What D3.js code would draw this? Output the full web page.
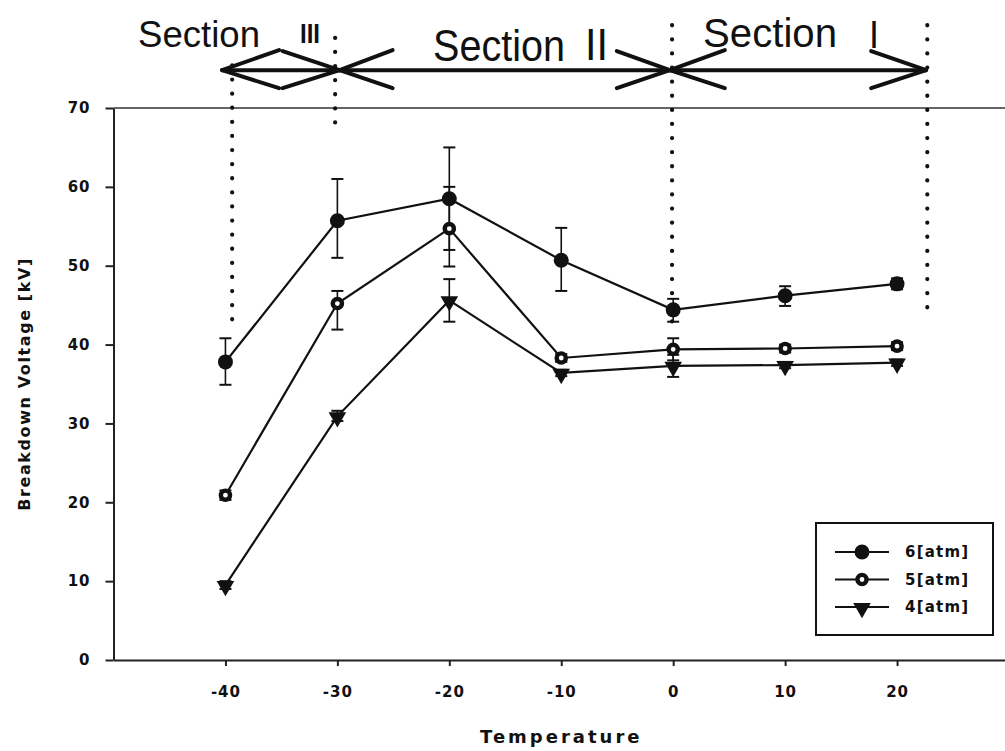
<!DOCTYPE html>
<html>
<head>
<meta charset="utf-8">
<script src="https://d3js.org/d3.v7.min.js"></script>
<style>
  body { margin: 0; background: #fff; }
  .tick text { font-family: "DejaVu Sans", sans-serif; font-weight: bold; font-size: 15px; letter-spacing: 1px; fill: #111; }
  .axis path, .axis line { stroke: #222; stroke-width: 2; }
  .title { font-family: "DejaVu Sans", sans-serif; font-weight: bold; fill: #111; }
  .section { font-family: "Liberation Sans", Arial, sans-serif; fill: #111; }
  .legend text { font-family: "DejaVu Sans", sans-serif; font-weight: bold; font-size: 15px; letter-spacing: 1.2px; fill: #111; }
</style>
</head>
<body>
<script>
// temperatures on the x axis
var temps = [-40, -30, -20, -10, 0, 10, 20];

// breakdown voltage per pressure, with error bar ends
var v6   = [37.8, 55.7, 58.5, 50.7, 44.4, 46.2, 47.7];
var v6lo = [34.9, 51.0, 52.0, 46.8, 42.9, 44.9, 47.0];
var v6hi = [40.8, 61.0, 65.0, 54.8, 45.8, 47.4, 48.4];

var v5   = [20.9, 45.2, 54.7, 38.3, 39.4, 39.5, 39.8];
var v5lo = [20.3, 41.9, 49.9, 37.8, 38.0, 39.0, 39.3];
var v5hi = [21.5, 46.8, 60.0, 38.8, 40.8, 40.0, 40.3];

var v4   = [9.5, 30.9, 45.6, 36.4, 37.3, 37.4, 37.7];
var v4lo = [9.0, 30.3, 42.9, 36.0, 35.9, 37.0, 37.3];
var v4hi = [10.0, 31.6, 48.3, 36.8, 38.7, 37.8, 38.1];

var seriesNames = ["6[atm]", "5[atm]", "4[atm]"];
var xTicks = [-40, -30, -20, -10, 0, 10, 20];
var yTicks = [0, 10, 20, 30, 40, 50, 60, 70];

// section boundaries (temperature) and the dotted marker lines [x, yTop, yBottom] in data units
var arrowLevel = 74.8;
var sectionEdges = [-40.3, -29.8, -0.3, 22.6];
var dotLines = [[-39.4, 75.4, 41.5], [-30.2, 78.9, 67.8], [-0.1, 80.5, 42.4], [22.7, 80.5, 44.0]];

var W = 1005, H = 751;
var svg = d3.select("body").append("svg").attr("width", W).attr("height", H);

var x = d3.scaleLinear().domain([-50, 30]).range([113.5, 1009]);
var y = d3.scaleLinear().domain([0, 70]).range([660, 108]);

var fmt = d => (d < 0 ? "-" + (-d) : "" + d);

// top frame line
svg.append("line").attr("x1", x(-50)).attr("x2", W).attr("y1", y(70)).attr("y2", y(70))
  .attr("stroke", "#333").attr("stroke-width", 1.6);

svg.append("g").attr("class", "axis")
  .attr("transform", "translate(0," + y(0) + ")")
  .call(d3.axisBottom(x).tickValues(xTicks).tickFormat(fmt).tickSize(6).tickSizeOuter(0).tickPadding(20));

svg.append("g").attr("class", "axis")
  .attr("transform", "translate(" + x(-50) + ",0)")
  .call(d3.axisLeft(y).tickValues(yTicks).tickFormat(fmt).tickSize(8).tickSizeOuter(0).tickPadding(15));

svg.append("text").attr("class", "title")
  .attr("x", x(-10)).attr("y", 743).attr("text-anchor", "middle")
  .style("font-size", "18px").style("letter-spacing", "3px")
  .text("Temperature");

svg.append("text").attr("class", "title")
  .attr("transform", "translate(30," + ((y(0) + y(70)) / 2) + ") rotate(-90)")
  .attr("text-anchor", "middle")
  .style("font-size", "16px").style("letter-spacing", "1.6px")
  .text("Breakdown Voltage [kV]");

// dotted section lines
svg.selectAll(".dots").data(dotLines).enter().append("line")
  .attr("x1", d => x(d[0])).attr("x2", d => x(d[0]))
  .attr("y1", d => y(d[1])).attr("y2", d => y(d[2]))
  .attr("stroke", "#111").attr("stroke-width", 4.2)
  .attr("stroke-linecap", "round").attr("stroke-dasharray", "0.1 14");

// double arrows over the sections
var ay = y(arrowLevel);
svg.append("line").attr("x1", x(sectionEdges[0])).attr("x2", x(sectionEdges[3]))
  .attr("y1", ay).attr("y2", ay).attr("stroke", "#111").attr("stroke-width", 4);
var barbs = [];
for (var i = 0; i < 3; i++) {
  var a = x(sectionEdges[i]), b = x(sectionEdges[i + 1]);
  var len = i == 0 ? 57 : (i == 1 ? 53 : 55);
  barbs.push([a, a + len, -20], [a, a + len, 18], [b, b - len, -19], [b, b - len, 18]);
}
svg.selectAll(".barb").data(barbs).enter().append("line")
  .attr("x1", d => d[0]).attr("y1", ay).attr("x2", d => d[1]).attr("y2", d => ay + d[2])
  .attr("stroke", "#111").attr("stroke-width", 4).attr("stroke-linecap", "round");

// section labels
function label(t, px, py, size, len, weight) {
  var el = svg.append("text").attr("class", "section").attr("x", px).attr("y", py)
    .style("font-size", size + "px").text(t);
  if (len) el.attr("textLength", len).attr("lengthAdjust", "spacingAndGlyphs");
  if (weight) el.style("font-weight", weight);
}
label("Section", 138, 47, 36, 122);
label("III", 300, 43, 28, 20, "bold");
label("Section", 433, 61, 44, 132);
label("II", 585, 60, 44, 23);
label("Section", 703, 47, 41, 134);
label("I", 869, 48, 38, 10);

// series
var series = [
  {name: seriesNames[0], v: v6, lo: v6lo, hi: v6hi, type: "filled"},
  {name: seriesNames[1], v: v5, lo: v5lo, hi: v5hi, type: "ring"},
  {name: seriesNames[2], v: v4, lo: v4lo, hi: v4hi, type: "tri"}
];

var line = d3.line().x((d, i) => x(temps[i])).y(d => y(d));
var tri = d3.symbol().type(d3.symbolTriangle).size(135);

function marker(g, type, px, py) {
  if (type == "filled") {
    g.append("circle").attr("cx", px).attr("cy", py).attr("r", 7.5).attr("fill", "#111");
  } else if (type == "ring") {
    g.append("circle").attr("cx", px).attr("cy", py).attr("r", 4.6)
      .attr("fill", "#fff").attr("stroke", "#111").attr("stroke-width", 4.4);
  } else {
    g.append("path").attr("d", tri)
      .attr("transform", "translate(" + px + "," + (py + 1) + ") rotate(180)").attr("fill", "#111");
  }
}

series.forEach(s => {
  var g = svg.append("g");
  g.selectAll(".err").data(s.v).enter().append("line")
    .attr("x1", (d, i) => x(temps[i])).attr("x2", (d, i) => x(temps[i]))
    .attr("y1", (d, i) => y(s.lo[i])).attr("y2", (d, i) => y(s.hi[i]))
    .attr("stroke", "#111").attr("stroke-width", 1.6);
  ["lo", "hi"].forEach(k => {
    g.selectAll(".cap" + k).data(s[k]).enter().append("line")
      .attr("x1", (d, i) => x(temps[i]) - 6).attr("x2", (d, i) => x(temps[i]) + 6)
      .attr("y1", d => y(d)).attr("y2", d => y(d))
      .attr("stroke", "#111").attr("stroke-width", 2);
  });
  g.append("path").datum(s.v).attr("d", line)
    .attr("fill", "none").attr("stroke", "#111").attr("stroke-width", 2.2);
  s.v.forEach((d, i) => marker(g, s.type, x(temps[i]), y(d)));
});

// legend
var lg = svg.append("g").attr("class", "legend");
lg.append("rect").attr("x", 816).attr("y", 523).attr("width", 177).attr("height", 112)
  .attr("fill", "#fff").attr("stroke", "#111").attr("stroke-width", 2);
series.forEach((s, i) => {
  var ly = 552 + i * 27.5;
  lg.append("line").attr("x1", 835).attr("x2", 889).attr("y1", ly).attr("y2", ly)
    .attr("stroke", "#111").attr("stroke-width", 1.8);
  marker(lg, s.type, 862, ly);
  lg.append("text").attr("x", 905).attr("y", ly + 5).text(s.name);
});
</script>
</body>
</html>
